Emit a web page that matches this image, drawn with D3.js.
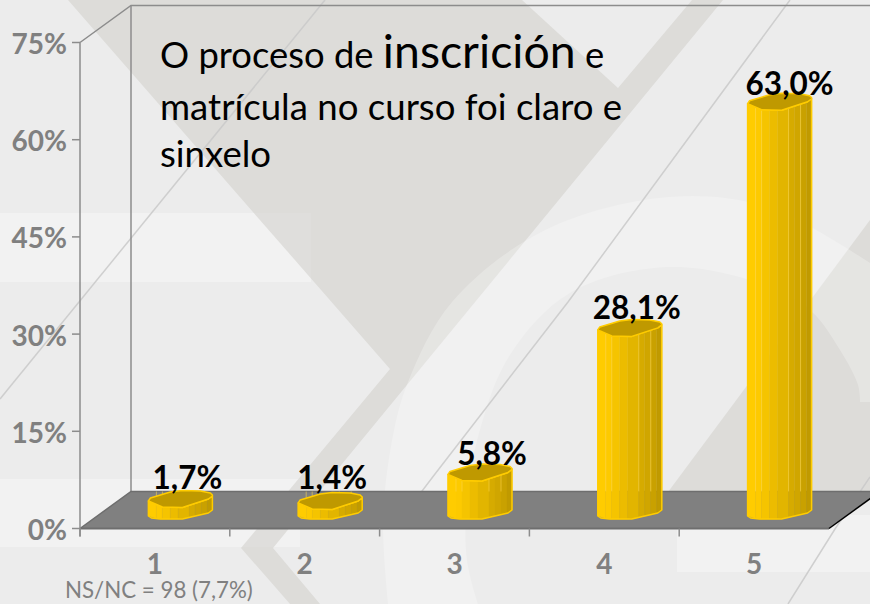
<!DOCTYPE html>
<html><head><meta charset="utf-8">
<script src="https://cdnjs.cloudflare.com/ajax/libs/d3/7.8.5/d3.min.js"></script>
<style>html,body{margin:0;padding:0;background:#ececec}svg{display:block}
text{font-family:Lato,"Open Sans",sans-serif}</style></head><body>
<svg id="c" width="870" height="604"></svg>
<script>
const categories = ["1","2","3","4","5"];
const percentValues = [1.7,1.4,5.8,28.1,63.0];
const valueLabels = ["1,7%","1,4%","5,8%","28,1%","63,0%"];
const yTicks = [0,15,30,45,60,75];
const titleLine1 = ["O proceso de ","inscrición"," e"];
const titleLine2 = "matrícula no curso foi claro e";
const titleLine3 = "sinxelo";
const footnote = "NS/NC = 98 (7,7%)";

// layout
const front = {l:80, r:829, t:42.5, b:528.5};
const depth = {dx:51, dy:-37};
const labelNudge = [7,2,12,7,10], labelLift = [10,12,7,9,7];
const stripeEdges = [-32,-24,-18,-10,-2,9,15,21,27,32];
const stripeColors = ["#ffcc00","#fdca00","#f5c400","#ecbc00","#e2b500","#d6ab00","#d0a600","#c9a100","#c09a00"];
const lightEdges = [-24,-18,9,21];
const topProfile = [[-32,2],[-18,8],[2,8.5],[28,0],[32,-3]];
const botProfile = [[-32,6],[-29,8],[-20,9],[2,9],[28,3],[32,0]];
const capOutline = [[-32,2],[-30,-1],[-10,-7],[2,-8.5],[20,-8],[30,-6],[32,-4],[32,-3],[28,0],[2,8.5],[-18,8]];

const svg = d3.select("#c");
const line = d3.line();
const poly = p => line(p)+"Z";

// background artwork
const bg = svg.append("g");
bg.append("rect").attr("width",870).attr("height",604).attr("fill","#ececec");
const bands = [[0,213,311,69],[0,479,300,68],[677,515,193,57]];
bands.forEach(([x,y,w,h])=>
  bg.append("rect").attr("x",x).attr("y",y).attr("width",w).attr("height",h).attr("fill","#fff").attr("fill-opacity",.28));
const dark = "#dddcd9";
bg.append("path").attr("fill",dark).attr("d",poly([[68,0],[522,0],[618,88],[692,0],[723,0],[273,548],[320,604],[290,604],[241,548],[390,369]]));
bg.append("path").attr("fill",dark).attr("d",poly([[870,220],[668,492],[668,500],[870,500]]));
bands.forEach(([x,y,w,h])=>
  bg.append("rect").attr("x",x).attr("y",y).attr("width",w).attr("height",h).attr("fill","#fff").attr("fill-opacity",.08));
const curve = d3.line().curve(d3.curveCatmullRom);
const outerArc = curve([[388,604],[383,519],[393,435],[408,382],[452,302],[545,230],[668,197],[768,207],[870,263]])+"L870,604Z";
const innerArc = curve([[478,604],[467,560],[467,500],[480,430],[510,355],[570,293],[670,267],[770,287],[812,312],[840,350],[858,385],[860,402]])+"L870,402L870,604Z";
bg.append("path").attr("fill","#fff").attr("fill-opacity",.25).attr("fill-rule","evenodd").attr("d",outerArc+innerArc);
[[[325,0],[0,399]],[[790,0],[568,302],[435,474],[400,520]],[[788,604],[835,529],[870,477]]].forEach(p=>
  bg.append("path").attr("d",line(p)).attr("fill","none").attr("stroke","#c9c9c9").attr("stroke-width",1.5).attr("stroke-opacity",.85));

// scales
const x = d3.scaleBand().domain(categories).range([front.l,front.r]);
const y = d3.scaleLinear().domain([0,75]).range([front.b,front.t]);
const wallColor = "#8c8c8c", floorEdge = "#6e6e6e";

// walls
const wall = svg.append("g").attr("fill","none").attr("stroke",wallColor).attr("stroke-width",1.5);
wall.append("path").attr("d",line([[front.l,y(75)],[front.l+depth.dx,y(75)+depth.dy],[880,y(75)+depth.dy]]));
wall.append("path").attr("d",line([[front.l+depth.dx,y(75)+depth.dy],[front.l+depth.dx,y(0)+depth.dy]]));

// floor
const fl = [[front.l,front.b],[front.l+depth.dx,front.b+depth.dy],[front.r+depth.dx,front.b+depth.dy],[front.r,front.b]];
svg.append("path").attr("d",poly(fl)).attr("fill","#808080");
svg.append("path").attr("d",line([fl[0],fl[1],fl[2]])).attr("fill","none").attr("stroke",floorEdge).attr("stroke-width",1.5);
svg.append("path").attr("d",line([fl[0],fl[3]])).attr("fill","none").attr("stroke",floorEdge).attr("stroke-width",2);
svg.append("path").attr("d",line([fl[3],fl[2]])).attr("fill","none").attr("stroke","#000").attr("stroke-width",1.5);

// axes
const styleAxis = g => {
  g.select(".domain").attr("stroke",wallColor).attr("stroke-width",1.5);
  g.selectAll("line").attr("stroke",wallColor).attr("stroke-width",1.5);
  g.selectAll("text").attr("fill","#808080").attr("font-weight",700).attr("font-size",28).attr("font-family","Lato");
};
const yAxis = svg.append("g").attr("transform",`translate(${front.l},2)`)
  .call(d3.axisLeft(y).tickValues(yTicks).tickFormat(d=>d+"%").tickSize(0).tickSizeOuter(0).tickPadding(13)).call(styleAxis);
yAxis.select(".domain").remove();
svg.append("path").attr("d",line([[front.l,y(75)],[front.l,y(0)+8]])).attr("fill","none").attr("stroke",wallColor).attr("stroke-width",1.5);
svg.append("g").selectAll("line").data(yTicks).join("line")
  .attr("x1",front.l-8).attr("x2",front.l).attr("y1",d=>y(d)).attr("y2",d=>y(d)).attr("stroke",wallColor).attr("stroke-width",1.5);
const xAxis = svg.append("g").attr("transform",`translate(0,${front.b+1})`)
  .call(d3.axisBottom(x).tickSize(0).tickPadding(25)).call(styleAxis);
xAxis.select(".domain").remove();
svg.append("g").selectAll("line").data(categories).join("line")
  .attr("x1",d=>x(d)).attr("x2",d=>x(d))
  .attr("y1",front.b).attr("y2",front.b+8).attr("stroke",wallColor).attr("stroke-width",1.5);

// bars
const interp = (prof,v)=>{
  for(let i=1;i<prof.length;i++){ if(v<=prof[i][0]){const [a,b]=prof[i-1],[c,e]=prof[i];return b+(e-b)*(v-a)/(c-a);} }
  return prof[prof.length-1][1];
};
const cx = c => x(c)+x.bandwidth()/2+depth.dx/2;
const baseY = y(0)+depth.dy/2;
const topY = v => y(v)+depth.dy/2;
const bars = svg.append("g").selectAll("g").data(categories.map((c,i)=>({c,v:percentValues[i],label:valueLabels[i],i}))).join("g")
  .attr("transform",d=>`translate(${cx(d.c)},0)`);
bars.each(function(d){
  const g = d3.select(this), t = topY(d.v);
  stripeColors.forEach((col,k)=>{
    const a = stripeEdges[k], b = stripeEdges[k+1];
    const pts = [[a,t+interp(topProfile,a)],[b,t+interp(topProfile,b)],[b,baseY+interp(botProfile,b)],[a,baseY+interp(botProfile,a)]];
    g.append("path").attr("d",poly(pts)).attr("fill",col).attr("stroke",col).attr("stroke-width",.4);
  });
  lightEdges.forEach(e=>{
    g.append("line").attr("x1",e).attr("x2",e).attr("y1",t+interp(topProfile,e)).attr("y2",Math.min(baseY+interp(botProfile,e),y(0)+depth.dy))
     .attr("stroke","#ffd84d").attr("stroke-opacity",.55).attr("stroke-width",1);
  });
  const outline = [...topProfile.map(([a,b])=>[a,t+b]),...botProfile.slice().reverse().map(([a,b])=>[a,baseY+b])];
  g.append("path").attr("d",poly(outline)).attr("fill","none").attr("stroke","#ffcc00").attr("stroke-width",1.5).attr("stroke-linejoin","round");
  g.append("path").attr("d",poly(capOutline.map(([a,b])=>[a,t+b]))).attr("fill","#bf9900").attr("stroke","#ffcc00").attr("stroke-width",1.5).attr("stroke-linejoin","round");
});

// value labels
svg.append("g").selectAll("text").data(percentValues).join("text")
  .attr("x",(d,i)=>cx(categories[i])+labelNudge[i]).attr("y",(d,i)=>topY(d)-labelLift[i])
  .attr("text-anchor","middle").attr("font-weight",700).attr("font-size",31.5).attr("fill","#000")
  .text((d,i)=>valueLabels[i]);

// title
const title = svg.append("text").attr("x",160).attr("y",68).attr("font-size",36.4).attr("fill","#000");
title.selectAll("tspan").data(titleLine1).join("tspan").attr("font-size",(d,i)=>i===1?46.4:36.4).text(d=>d);
svg.append("text").attr("x",160).attr("y",120).attr("font-size",36.6).text(titleLine2);
svg.append("text").attr("x",160).attr("y",167).attr("font-size",36.6).text(titleLine3);

svg.append("text").attr("x",65).attr("y",598).attr("font-size",22.3).attr("fill","#808080").text(footnote);
</script></body></html>
